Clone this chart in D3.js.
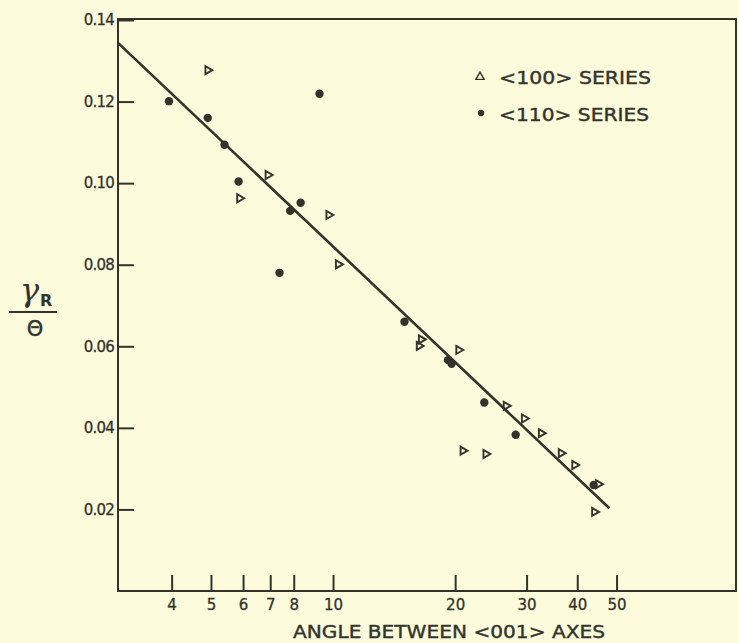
<!DOCTYPE html>
<html>
<head>
<meta charset="utf-8">
<script src="https://cdn.jsdelivr.net/npm/d3@7"></script>
<style>
html,body{margin:0;padding:0;background:#fcfbdc;}
svg{display:block;}
</style>
</head>
<body>
<svg id="chart" width="739" height="643"></svg>
<script>
// ---- data ----
const series100X = [4.91, 5.88, 6.91, 9.76, 10.3, 16.3, 16.5, 20.4, 20.9, 23.8, 26.7, 29.6, 32.6, 36.5, 39.4, 45.1, 44.1];
const series100Y = [0.1277, 0.0963, 0.1020, 0.0922, 0.0801, 0.0601, 0.0617, 0.0591, 0.0344, 0.0336, 0.0454, 0.0423, 0.0387, 0.0338, 0.0309, 0.0262, 0.0194];
const series110X = [3.94, 4.91, 5.40, 5.85, 9.26, 7.38, 7.84, 8.32, 15.0, 19.2, 19.6, 23.6, 28.2, 43.9];
const series110Y = [0.1201, 0.1160, 0.1094, 0.1004, 0.1219, 0.0780, 0.0932, 0.0952, 0.0660, 0.0566, 0.0557, 0.0462, 0.0383, 0.0260];
const fitX = [2.95, 48.0];
const fitY = [0.1344, 0.0203];
const xTicks = [4, 5, 6, 7, 8, 10, 20, 30, 40, 50];
const yTicks = [0.02, 0.04, 0.06, 0.08, 0.10, 0.12, 0.14];
const legendLabels = ["<100> SERIES", "<110> SERIES"];
const xTitle = "ANGLE BETWEEN <001> AXES";

// ---- layout ----
const ink = "#33332b";
const svg = d3.select("#chart");
const pL = 118, pR = 736, pT = 20, pB = 591;
const x = d3.scaleLog().domain([2.95, 98.5]).range([pL, pR]);
const y = d3.scaleLinear().domain([0, 0.14]).range([pB, pT]);

// frame
svg.append("rect").attr("x", pL).attr("y", pT - 1).attr("width", pR - pL).attr("height", pB - pT + 1)
  .attr("fill", "none").attr("stroke", ink).attr("stroke-width", 2);

// x axis (ticks inward)
const xAxis = d3.axisTop(x).tickValues(xTicks).tickSize(16).tickFormat(d3.format("d"));
const gx = svg.append("g").attr("transform", `translate(0,${pB})`).call(xAxis);
gx.select(".domain").remove();
gx.selectAll(".tick line").attr("stroke", ink).attr("stroke-width", 2);
gx.selectAll(".tick text").attr("y", 8).attr("dy", "0.71em").attr("fill", ink)
  .attr("stroke", ink).attr("stroke-width", 0.3)
  .style("font-family", "DejaVu Sans").style("font-size", "15px");

// y axis (ticks inward)
const yAxis = d3.axisRight(y).tickValues(yTicks).tickSize(16).tickFormat(d3.format(".2f"));
const gy = svg.append("g").attr("transform", `translate(${pL},0)`).call(yAxis);
gy.select(".domain").remove();
gy.selectAll(".tick line").attr("stroke", ink).attr("stroke-width", 2);
gy.selectAll(".tick text").attr("x", -4).attr("text-anchor", "end").attr("fill", ink)
  .attr("stroke", ink).attr("stroke-width", 0.3)
  .style("font-family", "DejaVu Sans").style("font-size", "15px").attr("letter-spacing", "-0.8px");

// fit line
const line = d3.line().x(d => x(d[0])).y(d => y(d[1]));
svg.append("path").datum(d3.zip(fitX, fitY)).attr("d", line)
  .attr("fill", "none").attr("stroke", ink).attr("stroke-width", 2.6);

// <100> series: hollow triangles
const tri = d3.symbol().type(d3.symbolTriangle).size(28);
svg.append("g").selectAll("path").data(d3.zip(series100X, series100Y)).join("path")
  .attr("d", tri)
  .attr("transform", d => `translate(${x(d[0])},${y(d[1])}) rotate(90)`)
  .attr("fill", "none").attr("stroke", ink).attr("stroke-width", 1.9);

// <110> series: filled circles
svg.append("g").selectAll("circle").data(d3.zip(series110X, series110Y)).join("circle")
  .attr("cx", d => x(d[0])).attr("cy", d => y(d[1])).attr("r", 4.2).attr("fill", ink);

// legend
const lg = svg.append("g");
lg.append("path").attr("d", d3.symbol().type(d3.symbolTriangle).size(30))
  .attr("transform", "translate(480,77)").attr("fill", "none").attr("stroke", ink).attr("stroke-width", 1.4);
lg.append("circle").attr("cx", 481).attr("cy", 113).attr("r", 3.2).attr("fill", ink);
lg.selectAll("text").data(legendLabels).join("text")
  .attr("x", 499).attr("y", (d, i) => 84 + i * 37)
  .attr("textLength", (d, i) => i === 0 ? 152 : 150).attr("lengthAdjust", "spacingAndGlyphs")
  .attr("fill", ink).attr("stroke", ink).attr("stroke-width", 0.4)
  .style("font-family", "DejaVu Sans").style("font-size", "18px")
  .text(d => d);

// x title
svg.append("text").attr("x", 293).attr("y", 638).attr("textLength", 312).attr("lengthAdjust", "spacingAndGlyphs")
  .attr("fill", ink).attr("stroke", ink).attr("stroke-width", 0.4)
  .style("font-family", "DejaVu Sans").style("font-size", "18px").text(xTitle);

// y title: gamma_R over theta
const yl = svg.append("g").attr("fill", ink);
yl.append("text").attr("x", 20).attr("y", 301).style("font-family", "DejaVu Serif").style("font-style", "italic")
  .style("font-size", "32px").text("γ");
yl.append("text").attr("x", 40).attr("y", 306).style("font-family", "DejaVu Sans").style("font-weight", "bold")
  .style("font-size", "16px").text("R");
yl.append("line").attr("x1", 9).attr("x2", 57).attr("y1", 312).attr("y2", 312).attr("stroke", ink).attr("stroke-width", 2);
yl.append("text").attr("x", 35).attr("y", 336).attr("text-anchor", "middle").style("font-family", "DejaVu Sans")
  .attr("stroke", ink).attr("stroke-width", 0.4)
  .style("font-size", "21px").text("Θ");
</script>
</body>
</html>
